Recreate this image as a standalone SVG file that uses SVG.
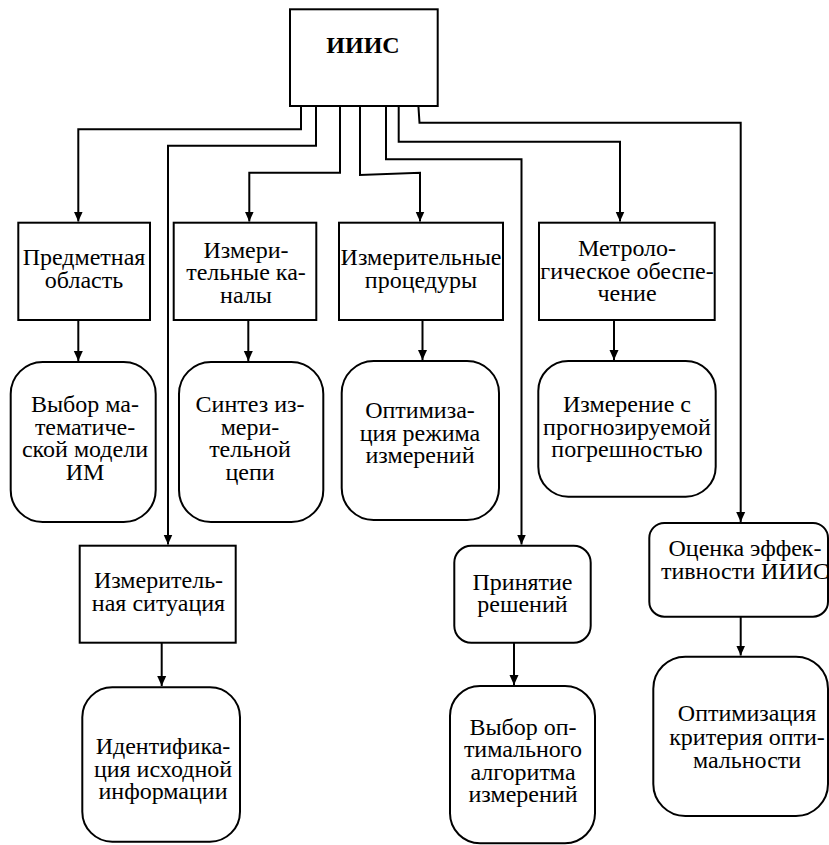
<svg xmlns="http://www.w3.org/2000/svg" width="829" height="845" viewBox="0 0 829 845" font-family="Liberation Serif, DejaVu Serif, serif">
  <style>
    .box { fill: #fff; stroke: #000; stroke-width: 2; }
    text { font-size: 24px; fill: #000; text-anchor: middle; }
    .tb { font-weight: bold; }
    .wire { fill: none; stroke: #000; stroke-width: 2; marker-end: url(#arrow); }
  </style>
  <defs>
    <marker id="arrow" markerUnits="userSpaceOnUse" markerWidth="10" markerHeight="11" refX="10" refY="5" orient="auto">
      <path d="M0,0.5 L10,5 L0,9.5 Z" fill="#000"/>
    </marker>
  </defs>
  <rect width="829" height="845" fill="#fff"/>

  <g id="connectors">
    <path class="wire" d="M301 106 V129.3 H78.3 V221.5"/>
    <path class="wire" d="M316 106 V145.7 H168 V544.5"/>
    <path class="wire" d="M340 106 V172.7 H249.3 V221.5"/>
    <path class="wire" d="M360 106 V175 L420 172.7 V221.5"/>
    <path class="wire" d="M386 106 V159.3 H521.5 V544.5"/>
    <path class="wire" d="M398.7 106 V141.7 H620 V221.5"/>
    <path class="wire" d="M418.4 106 L419.5 122.7 H740.7 V522"/>
    <path class="wire" d="M78.3 320 V361"/>
    <path class="wire" d="M248.3 320 V361"/>
    <path class="wire" d="M422.5 320 V360"/>
    <path class="wire" d="M614 320 V360"/>
    <path class="wire" d="M161.7 643 V686"/>
    <path class="wire" d="M514 643 V685"/>
    <path class="wire" d="M740.7 617 V655.5"/>
  </g>

  <g id="iiis">
    <rect class="box" x="290" y="9.3" width="147.7" height="96.7"/>
    <text class="tb" x="363" y="53.3">ИИИС</text>
  </g>

  <g id="subject-area">
    <rect class="box" x="18.3" y="222.7" width="131.7" height="97.3"/>
    <text x="84" y="265">Предметная</text>
    <text x="84" y="287.5">область</text>
  </g>

  <g id="channels">
    <rect class="box" x="173.7" y="222.7" width="142.6" height="97.3"/>
    <text x="246" y="257.5">Измери-</text>
    <text x="246" y="280">тельные ка-</text>
    <text x="246" y="302.5">налы</text>
  </g>

  <g id="procedures">
    <rect class="box" x="339" y="222.7" width="164" height="97.3"/>
    <text x="421" y="265">Измерительные</text>
    <text x="421" y="287.5">процедуры</text>
  </g>

  <g id="metrology">
    <rect class="box" x="539" y="222.7" width="175.7" height="97.3"/>
    <text x="627" y="256">Метроло-</text>
    <text x="627" y="278.5">гическое обеспе-</text>
    <text x="627" y="301">чение</text>
  </g>

  <g id="model-choice">
    <rect class="box" x="10.7" y="362" width="145" height="160" rx="32"/>
    <text x="85" y="412">Выбор ма-</text>
    <text x="85" y="434.5">тематиче-</text>
    <text x="85" y="457">ской модели</text>
    <text x="85" y="479.5">ИМ</text>
  </g>

  <g id="circuit-synthesis">
    <rect class="box" x="179" y="362" width="144.3" height="160" rx="32"/>
    <text x="250" y="412">Синтез из-</text>
    <text x="250" y="434.5">мери-</text>
    <text x="250" y="457">тельной</text>
    <text x="250" y="479.5">цепи</text>
  </g>

  <g id="mode-optimization">
    <rect class="box" x="341.7" y="361" width="157.3" height="159" rx="32"/>
    <text x="420" y="418">Оптимиза-</text>
    <text x="420" y="440.5">ция режима</text>
    <text x="420" y="463">измерений</text>
  </g>

  <g id="predicted-error">
    <rect class="box" x="538.3" y="361" width="177.4" height="135.7" rx="30"/>
    <text x="627" y="412">Измерение с</text>
    <text x="627" y="434.5">прогнозируемой</text>
    <text x="627" y="457">погрешностью</text>
  </g>

  <g id="situation">
    <rect class="box" x="79.7" y="545.7" width="156" height="97"/>
    <text x="158.5" y="588">Измеритель-</text>
    <text x="158.5" y="610.5">ная ситуация</text>
  </g>

  <g id="identification">
    <rect class="box" x="82.3" y="687.3" width="157.7" height="154.4" rx="30"/>
    <text x="163" y="754">Идентифика-</text>
    <text x="163" y="776.5">ция исходной</text>
    <text x="163" y="799">информации</text>
  </g>

  <g id="decisions">
    <rect class="box" x="454.3" y="545.7" width="136.4" height="97" rx="17"/>
    <text x="522.5" y="589.5">Принятие</text>
    <text x="522.5" y="612">решений</text>
  </g>

  <g id="algorithm-choice">
    <rect class="box" x="450" y="686" width="145" height="157.3" rx="30"/>
    <text x="523" y="734.5">Выбор оп-</text>
    <text x="523" y="757">тимального</text>
    <text x="523" y="779.5">алгоритма</text>
    <text x="523" y="802">измерений</text>
  </g>

  <g id="efficiency">
    <rect class="box" x="649.3" y="523" width="178.7" height="93.7" rx="15"/>
    <text x="745" y="556.3">Оценка эффек-</text>
    <text x="745" y="578.5">тивности ИИИС</text>
  </g>

  <g id="criterion-optimization">
    <rect class="box" x="653.3" y="656.7" width="174.7" height="159.3" rx="32"/>
    <text x="747" y="721.3">Оптимизация</text>
    <text x="747" y="744.5">критерия опти-</text>
    <text x="747" y="767.5">мальности</text>
  </g>
</svg>
